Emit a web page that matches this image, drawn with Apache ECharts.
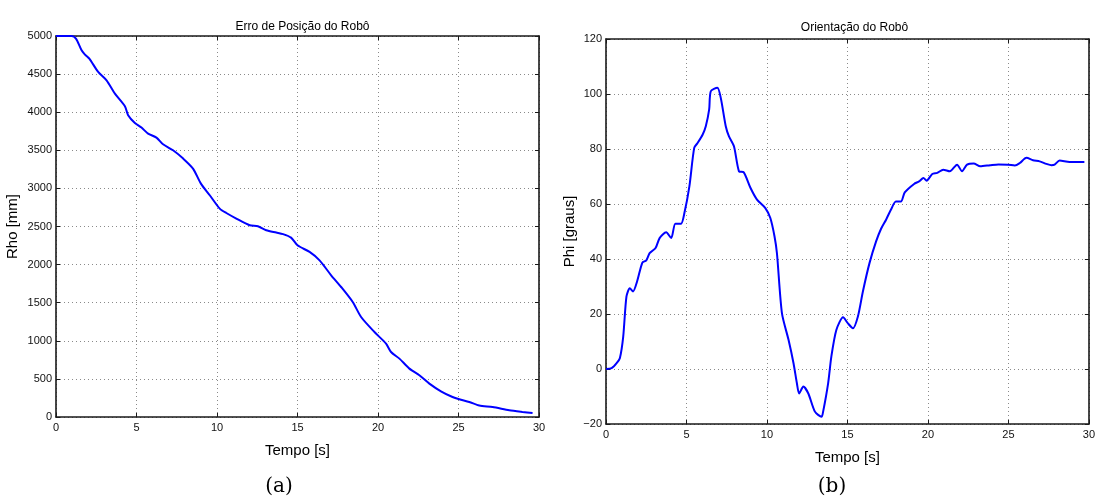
<!DOCTYPE html>
<html>
<head>
<meta charset="utf-8">
<script src="https://cdn.jsdelivr.net/npm/echarts@6/dist/echarts.min.js"></script>
<style>
html,body{margin:0;padding:0;background:#fff;}
#chart{width:1098px;height:503px;}
</style>
</head>
<body>
<div id="chart"></div>
<script>
// ---- Data ----
const rhoTime = [0,0.97,1.24,1.59,1.8,2.07,2.62,3.14,3.66,4.28,4.48,4.9,5.31,5.72,6.24,6.65,7.27,7.9,8.51,9.0,9.55,10.17,10.58,11.2,12.03,12.54,13.06,13.68,14.1,14.6,15.0,15.75,16.37,17.09,17.71,18.43,18.95,19.78,20.5,20.81,21.33,21.95,22.57,23.19,23.91,24.63,25.05,25.67,26.29,27.12,28.15,28.97,29.6];
const rhoValues = [5000,5000,4966,4812,4756,4703,4528,4419,4244,4078,3960,3858,3798,3719,3667,3579,3500,3391,3260,3063,2910,2735,2677,2604,2516,2503,2450,2420,2400,2354,2253,2166,2056,1860,1706,1509,1312,1115,963,853,766,635,547,438,337,262,232,197,150,131,88,66,52];

const phiTime = [0,0.35,0.66,0.86,1.07,1.27,1.48,1.68,1.93,2.26,2.5,2.71,3.08,3.33,3.74,4.05,4.31,4.66,4.87,5.18,5.48,5.69,6.0,6.2,6.41,6.51,6.92,7.13,7.44,7.64,7.95,8.26,8.56,8.98,9.38,9.9,10.21,10.47,10.62,10.93,11.34,11.65,11.86,12.0,12.26,12.57,12.98,13.39,13.49,13.8,14.0,14.31,14.73,15.03,15.34,15.65,15.96,16.37,16.78,17.09,17.4,17.7,18.01,18.32,18.56,19.14,19.45,19.72,19.92,20.27,20.58,20.95,21.36,21.81,22.12,22.43,22.84,23.25,23.86,24.38,24.99,25.4,25.71,26.12,26.53,26.94,27.36,27.67,27.87,28.18,28.8,29.72];
const phiValues = [0,0.3,2.1,3.9,11.8,26.3,29.4,28.2,31.8,38.7,39.5,42.1,44,47.6,49.7,47.6,52.8,52.8,56.7,66.4,80.4,82.2,85.2,88.3,94.4,101,102.3,98.6,88.3,84.6,81,71.9,71.5,65.8,61.6,58.5,54.9,48.2,42.1,20.3,10.6,2.1,-5.2,-8.9,-6.4,-8.9,-15.5,-17.4,-15.5,-5.2,4.5,14.2,18.8,16.6,14.8,19.1,28.2,38.5,46.4,51,54.3,57.9,60.9,60.9,64.2,67.3,68.2,69.5,68.5,70.9,71.3,72.5,71.9,74.3,71.9,74.3,74.7,73.7,74.1,74.4,74.3,74,74.9,76.8,75.9,75.5,74.6,74.1,74.3,75.8,75.3,75.3];

const titles = ['Erro de Posição do Robô', 'Orientação do Robô'];
const xName = 'Tempo [s]';
const yNames = ['Rho [mm]', 'Phi [graus]'];
const captions = ['(a)', '(b)'];
const xRange = [0, 30, 5];
const rhoRange = [0, 5000, 500];
const phiRange = [-20, 120, 20];

// ---- Build ----
const FONT = 'Liberation Sans, Arial, sans-serif';
const frameLine = {show: true, onZero: false, lineStyle: {color: '#1a1a1a', width: 1.6}};
const grid0 = {left: 56, right: 1098 - 539, top: 36, height: 381};
const grid1 = {left: 606, right: 1098 - 1093, top: 39, height: 385};
const tickStyle = {show: true, inside: true, length: 4, lineStyle: {color: '#1a1a1a'}};
const dotted = {show: true, lineStyle: {color: '#8a8a8a', type: [1, 3], width: 1}};

function mainX(gi) {
  return {
    type: 'value', gridIndex: gi, min: xRange[0], max: xRange[1], interval: xRange[2],
    position: 'bottom', name: xName, nameLocation: 'middle', nameGap: 26,
    nameTextStyle: {fontFamily: FONT, fontSize: 15, color: '#000'},
    axisLine: frameLine, axisTick: tickStyle,
    axisLabel: {fontFamily: FONT, fontSize: 11, color: '#111', margin: 5},
    splitLine: dotted
  };
}
function topX(gi) {
  return {
    type: 'value', gridIndex: gi, min: xRange[0], max: xRange[1], interval: xRange[2],
    position: 'top', axisLine: frameLine, axisTick: tickStyle,
    axisLabel: {show: false}, splitLine: {show: false}
  };
}
function fmtMinus(v) { return String(v).replace('-', '\u2212'); }
function mainY(gi, r, name, gap) {
  return {
    type: 'value', gridIndex: gi, min: r[0], max: r[1], interval: r[2],
    position: 'left', name: name, nameLocation: 'middle', nameGap: gap,
    nameTextStyle: {fontFamily: FONT, fontSize: 15, color: '#000'},
    axisLine: frameLine, axisTick: tickStyle,
    axisLabel: {fontFamily: FONT, fontSize: 11, color: '#111', margin: 4, formatter: fmtMinus},
    splitLine: dotted
  };
}
function rightY(gi, r) {
  return {
    type: 'value', gridIndex: gi, min: r[0], max: r[1], interval: r[2],
    position: 'right', axisLine: frameLine, axisTick: tickStyle,
    axisLabel: {show: false}, splitLine: {show: false}
  };
}

const rhoData = rhoTime.map((t, i) => [t, rhoValues[i]]);
const phiData = phiTime.map((t, i) => [t, phiValues[i]]);

const chart = echarts.init(document.getElementById('chart'), null, {renderer: 'canvas'});
chart.setOption({
  backgroundColor: '#fff',
  animation: false,
  title: [
    {text: titles[0], left: 297.5, top: 16, textAlign: 'center',
     textStyle: {fontFamily: FONT, fontSize: 12, fontWeight: 'normal', color: '#000'}},
    {text: titles[1], left: 849.5, top: 17, textAlign: 'center',
     textStyle: {fontFamily: FONT, fontSize: 12, fontWeight: 'normal', color: '#000'}},
    {text: captions[0], left: 274, top: 472, textAlign: 'center',
     textStyle: {fontFamily: 'DejaVu Serif, serif', fontSize: 20, fontWeight: 'normal', color: '#000'}},
    {text: captions[1], left: 827, top: 472, textAlign: 'center',
     textStyle: {fontFamily: 'DejaVu Serif, serif', fontSize: 20, fontWeight: 'normal', color: '#000'}}
  ],
  grid: [grid0, grid1],
  xAxis: [mainX(0), topX(0), mainX(1), topX(1)],
  yAxis: [mainY(0, rhoRange, yNames[0], 36), rightY(0, rhoRange), mainY(1, phiRange, yNames[1], 29), rightY(1, phiRange)],
  series: [
    {type: 'line', xAxisIndex: 0, yAxisIndex: 0, data: rhoData, showSymbol: false, smooth: 0.25,
     lineStyle: {color: '#0000ff', width: 2}},
    {type: 'line', xAxisIndex: 2, yAxisIndex: 2, data: phiData, showSymbol: false, smooth: 0.25,
     lineStyle: {color: '#0000ff', width: 2}}
  ]
});
</script>
</body>
</html>
